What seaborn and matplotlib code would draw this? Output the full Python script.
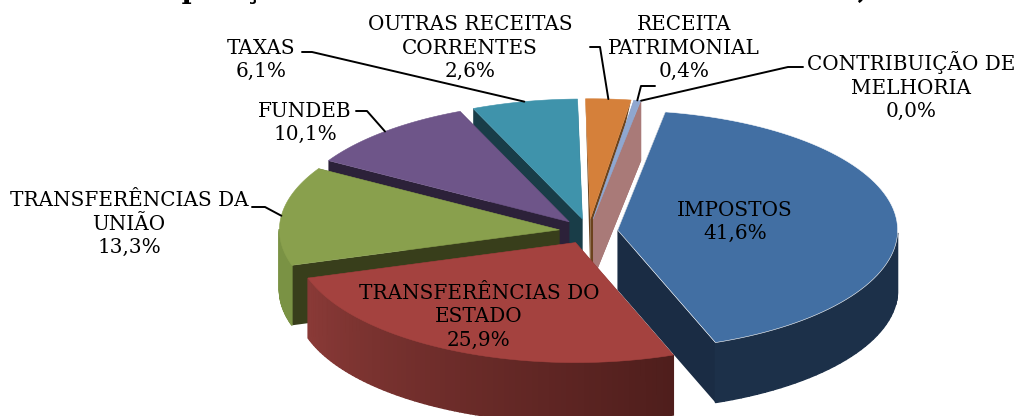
import numpy as np
import matplotlib
matplotlib.use("Agg")
import matplotlib.pyplot as plt
import seaborn as sns

labels = ["IMPOSTOS", "TRANSFERÊNCIAS DO\nESTADO", "TRANSFERÊNCIAS DA\nUNIÃO", "FUNDEB", "TAXAS",
          "OUTRAS RECEITAS\nCORRENTES", "RECEITA\nPATRIMONIAL", "CONTRIBUIÇÃO DE\nMELHORIA"]
values = [41.6, 25.9, 13.3, 10.1, 6.1, 2.6, 0.4, 0.0]

top_colors = ["#426FA3", "#A4423F", "#89A04D", "#6E5589", "#3F93AB", "#D5803A", "#8FA7D0", "#A97A78"]
edge_colors = ["white", "#A4423F", "#89A04D", "#6E5589", "#3F93AB", "#D5803A", "#8FA7D0", "#A97A78"]
wall_left = ["#1C3049", "#4F1E1C", "#7A9244", "#4A3A60", "#2B6A7C", "#8F5A2A", "#6F84A8", "#A97A78"]
wall_right = ["#1C3049", "#8A3A37", "#7A9244", "#4A3A60", "#2B6A7C", "#8F5A2A", "#6F84A8", "#A97A78"]
cut_colors = ["#1A2C44", "#4F1E1C", "#383E1B", "#2C2139", "#193D48", "#6B431D", "#A97A78", "#A97A78"]

# pie geometry, in pixels
cx, cy = 588.5, 231.3
rx, ry = 280, 120
depth = 60
explode = 0.1046
first_angle = 9.8

# label block centre, None = no leader
label_pos = [(735, 222), (479, 317), (129, 224), (305, 123), (261, 60), (470, 48), (684, 48), (911, 86)]
leader_from = [None, None, (252, 207), (356, 111), (302, 52), (590, 47), (655, 86), (803, 67)]
leader_elbow = [None, None, (265, 207), (367, 111), (312, 52), (600, 47), (641, 86), (788, 67)]

title = "Composição das Receitas Correntes Arrecadadas, 2013"

# painter order, back slices first
order = {4: 1, 3: 2, 2: 3, 5: 4, 7: 5, 6: 6, 0: 7, 1: 8}


def rim(center, t):
    t = np.radians(t)
    return center[0] + rx * np.sin(t), center[1] - ry * np.cos(t)


def slice_center(mid):
    t = np.radians(mid)
    return cx + explode * rx * np.sin(t), cy - explode * ry * np.cos(t)


def draw_slice(ax, i, a0, a1, center):
    ts = np.linspace(a0, a1, 80)
    x, y = rim(center, ts)

    # cut faces; the orange one tapers away towards the rim
    rim_depth = 0 if i == 5 else depth
    for xr, yr in [(x[0], y[0]), (x[-1], y[-1])]:
        ax.fill([center[0], xr, xr, center[0]],
                [center[1], yr, yr + rim_depth, center[1] + depth],
                color=cut_colors[i], lw=0, zorder=order[i])

    # outer wall, in strips so it can carry a gradient; only the front half shows
    shades = sns.blend_palette([wall_left[i], wall_right[i]], len(ts) - 1)
    for k in range(len(ts) - 1):
        if np.cos(np.radians(ts[k])) > 0:
            continue
        ax.fill([x[k], x[k + 1], x[k + 1], x[k]],
                [y[k], y[k + 1], y[k + 1] + depth, y[k] + depth],
                color=shades[k], lw=1, zorder=order[i] + 0.1)

    # top
    ax.fill(np.r_[center[0], x], np.r_[center[1], y], facecolor=top_colors[i],
            edgecolor=edge_colors[i], lw=0.4, zorder=order[i] + 0.5)


sns.set_theme(style="white")
plt.rcParams["font.family"] = ["DejaVu Serif"]

fig = plt.figure(figsize=(10.19, 4.16), dpi=100)
ax = fig.add_axes([0, 0, 1, 1])
ax.set_xlim(0, 1019)
ax.set_ylim(416, 0)
ax.axis("off")

ends = first_angle + np.cumsum(values) * 3.6
starts = ends - np.array(values) * 3.6
for i in range(len(values)):
    c = slice_center((starts[i] + ends[i]) / 2)
    draw_slice(ax, i, starts[i], ends[i], c)

    text = "%s\n%s%%" % (labels[i], ("%.1f" % values[i]).replace(".", ","))
    ax.text(label_pos[i][0], label_pos[i][1], text, ha="center", va="center", fontsize=14.4,
            color="black", linespacing=1.3, zorder=20)

    if leader_from[i] is not None:
        end = rim(c, (starts[i] + ends[i]) / 2)
        ax.plot([leader_from[i][0], leader_elbow[i][0], end[0]],
                [leader_from[i][1], leader_elbow[i][1], end[1]],
                color="black", lw=1.4, zorder=15)

ax.text(113, -2.5, title, ha="left", va="baseline", fontsize=19.6, fontweight="bold", color="black")

fig.savefig("out.png", dpi=100)
